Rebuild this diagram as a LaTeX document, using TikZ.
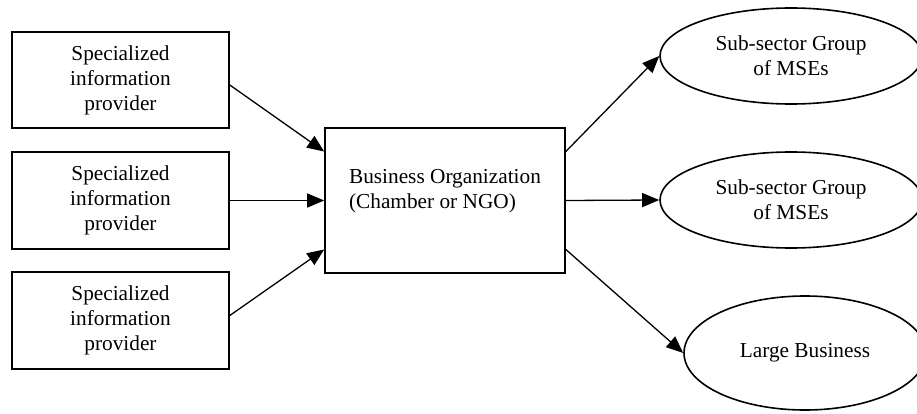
\documentclass[tikz,border=0pt]{standalone}
\usepackage{fontspec}
\setmainfont{Liberation Serif}
\usetikzlibrary{shapes.geometric,arrows.meta,calc}
\begin{document}
\begin{tikzpicture}[x=1pt,y=-1pt,
  txt/.style={font=\fontsize{21.3}{25}\selectfont},
  box/.style={draw, line width=1.6pt, rectangle, inner sep=0pt, txt, align=center},
  oval/.style={draw, line width=1.6pt, ellipse, inner sep=0pt, txt, align=center},
  arr/.style={line width=1.3pt, -{Triangle[length=17pt,width=14pt]}}]
\useasboundingbox (0,0) rectangle (917,414);
\node[box, minimum width=217, minimum height=96] (b1) at (120.5,80) {Specialized\\information\\provider};
\node[box, minimum width=217, minimum height=97] (b2) at (120.5,200.5) {Specialized\\information\\provider};
\node[box, minimum width=217, minimum height=97] (b3) at (120.5,320.5) {Specialized\\information\\provider};
\node[box, minimum width=240, minimum height=145, align=left] (org) at (445,200.5) {Business Organization\\(Chamber or NGO)\\[-2pt]~};
\node[oval, minimum width=262, minimum height=96] (e1) at (791,56) {Sub-sector Group\\of MSEs};
\node[oval, minimum width=262, minimum height=96] (e2) at (791,200) {Sub-sector Group\\of MSEs};
\node[oval, minimum width=242, minimum height=114] (e3) at (805,353) {Large Business};
\coordinate (inA) at ($(org.north west)!0.166!(org.south west)$);
\coordinate (inC) at ($(org.north west)!0.834!(org.south west)$);
\coordinate (outA) at ($(org.north east)!0.166!(org.south east)$);
\coordinate (outC) at ($(org.north east)!0.834!(org.south east)$);
\draw[arr] ($(b1.east)+(0,5)$) -- (inA);
\draw[arr] (b2.east) -- (org.west);
\draw[arr] ($(b3.east)+(0,-5)$) -- (inC);
\draw[arr] (outA) -- (e1.west);
\draw[arr] (org.east) -- (e2.west);
\draw[arr] (outC) -- (e3.west);
\end{tikzpicture}
\end{document}
